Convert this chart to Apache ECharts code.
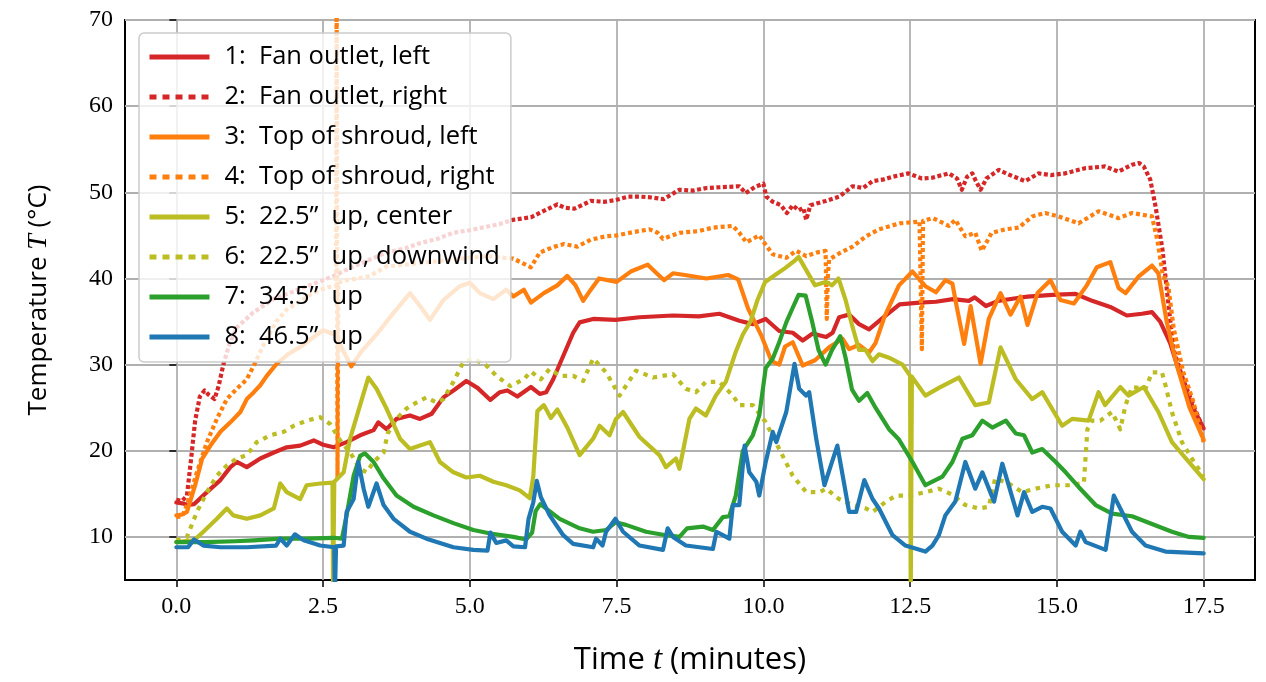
<!DOCTYPE html>
<html>
<head>
<meta charset="utf-8">
<script src="https://cdn.jsdelivr.net/npm/echarts@6/dist/echarts.min.js"></script>
<style>
  html, body { margin: 0; padding: 0; background: #fff; }
  #chart { width: 1266px; height: 682px; }
</style>
</head>
<body>
<div id="chart"></div>
<script>
// tick positions
var xTicks = [0, 2.5, 5, 7.5, 10, 12.5, 15, 17.5];
var yTicks = [10, 20, 30, 40, 50, 60, 70];

var legendNames = [
  '1:  Fan outlet, left',
  '2:  Fan outlet, right',
  '3:  Top of shroud, left',
  '4:  Top of shroud, right',
  '5:  22.5\u201d  up, center',
  '6:  22.5\u201d  up, downwind',
  '7:  34.5\u201d  up',
  '8:  46.5\u201d  up'
];

// [time (min), temperature (C)]
var fanLeft = [[0,14.0],[0.1,13.9],[0.2,13.7],[0.3,13.8],[0.52,15.2],[0.75,16.6],[0.92,18.1],[1.03,18.7],[1.2,18.1],[1.43,19.1],[1.66,19.8],[1.88,20.4],[2.11,20.6],[2.34,21.2],[2.5,20.7],[2.68,20.4],[2.9,21.0],[3.13,21.8],[3.36,22.4],[3.44,23.3],[3.58,22.5],[3.75,23.7],[3.98,24.1],[4.15,23.7],[4.35,24.3],[4.55,26.2],[4.72,27.0],[4.94,28.1],[5.13,27.3],[5.35,25.9],[5.51,26.8],[5.64,27.0],[5.81,26.3],[6.04,27.4],[6.19,26.6],[6.3,26.8],[6.42,28.3],[6.59,31.0],[6.76,33.7],[6.87,34.9],[7.1,35.3],[7.48,35.2],[7.89,35.5],[8.46,35.7],[8.9,35.6],[9.25,35.9],[9.59,35.1],[9.82,34.7],[10.04,35.3],[10.27,33.9],[10.5,33.7],[10.67,32.8],[10.84,33.6],[11.07,33.2],[11.18,33.7],[11.29,35.5],[11.46,35.8],[11.63,34.7],[11.8,34.1],[12.05,35.5],[12.32,37.0],[12.66,37.2],[12.94,37.3],[13.23,37.6],[13.5,37.4],[13.6,37.8],[13.79,36.8],[14.0,37.4],[14.3,37.7],[14.5,37.9],[14.92,38.1],[15.32,38.2],[15.6,37.4],[15.91,36.7],[16.19,35.7],[16.45,35.9],[16.62,36.1],[16.76,35.0],[16.93,32.5],[17.1,28.8],[17.32,25.0],[17.5,22.6]];

var fanRight = [[0,14.3],[0.1,14.2],[0.18,14.8],[0.25,19],[0.32,23.5],[0.4,26.3],[0.48,27],[0.55,26.5],[0.65,26],[0.72,27.5],[0.8,30],[0.9,32.3],[1.03,34.3],[1.3,36],[1.65,37.6],[2.0,38.5],[2.22,39.1],[2.5,39.8],[2.68,40.3],[3.02,41.4],[3.3,42.2],[3.58,43.0],[3.9,43.5],[4.15,44.1],[4.45,44.6],[4.71,45.3],[5.0,45.6],[5.28,46.0],[5.5,46.3],[5.73,46.8],[6.04,47.1],[6.19,47.6],[6.49,48.6],[6.62,48.2],[6.78,48.1],[7.06,49.0],[7.3,48.9],[7.48,49.1],[7.7,49.5],[7.89,49.5],[8.1,49.4],[8.3,49.2],[8.57,50.3],[8.8,50.2],[9.03,50.5],[9.3,50.6],[9.59,50.7],[9.7,49.9],[9.85,50.6],[10.0,51.0],[10.05,49.5],[10.16,48.9],[10.3,48.5],[10.4,47.6],[10.5,48.5],[10.6,47.9],[10.68,48.2],[10.73,46.8],[10.8,48.5],[11.06,49.0],[11.29,49.5],[11.52,50.7],[11.7,50.5],[11.86,51.3],[12.05,51.5],[12.2,51.8],[12.47,52.2],[12.7,51.6],[12.88,51.7],[13.16,52.2],[13.3,51.6],[13.38,50.3],[13.47,51.8],[13.56,52.2],[13.62,51.3],[13.7,50.3],[13.8,51.6],[14.01,52.6],[14.2,52.0],[14.46,51.3],[14.69,52.2],[14.9,52.0],[15.14,52.2],[15.48,52.8],[15.82,53.0],[16.05,52.4],[16.28,53.2],[16.4,53.4],[16.48,53.0],[16.59,51.5],[16.68,48.4],[16.8,43.3],[16.9,37],[16.99,31.7],[17.15,28.3],[17.32,25.4],[17.5,22.4]];

var shroudLeft = [[0,12.5],[0.1,12.6],[0.18,12.9],[0.32,16],[0.44,19.1],[0.58,20.6],[0.75,22.2],[0.92,23.3],[1.09,24.5],[1.2,26.0],[1.32,26.8],[1.43,27.6],[1.54,28.7],[1.71,30.1],[1.9,31.2],[2.1,32.0],[2.3,33.0],[2.5,34.0],[2.7,33.5],[2.85,31.5],[2.98,29.8],[3.15,31.5],[3.41,33.5],[3.7,36.0],[3.98,38.3],[4.15,36.8],[4.32,35.2],[4.55,37.5],[4.83,39.1],[5.0,39.5],[5.17,38.3],[5.4,37.6],[5.62,38.7],[5.74,37.9],[5.92,38.7],[6.04,37.2],[6.26,38.3],[6.49,39.2],[6.66,40.3],[6.8,39.2],[6.93,37.4],[7.06,38.7],[7.2,40.0],[7.5,39.6],[7.74,40.8],[8.03,41.6],[8.2,40.5],[8.31,39.8],[8.46,40.6],[8.66,40.4],[9.03,40.0],[9.4,40.4],[9.57,39.9],[9.74,36.5],[9.97,33.3],[10.14,30.4],[10.27,30.0],[10.37,32.1],[10.5,32.6],[10.67,29.9],[10.88,30.5],[11.12,32.0],[11.35,33.0],[11.46,31.8],[11.63,32.3],[11.8,31.4],[11.91,32.5],[12.06,35.5],[12.31,39.2],[12.54,40.8],[12.76,39.1],[12.94,38.4],[13.1,39.8],[13.22,39.4],[13.3,36.5],[13.42,32.4],[13.53,36.8],[13.7,30.1],[13.84,35.3],[14.04,38.3],[14.21,35.8],[14.38,37.9],[14.5,34.6],[14.67,38.3],[14.89,39.8],[15.06,37.5],[15.29,37.1],[15.51,39.2],[15.68,41.3],[15.91,41.9],[16.05,38.9],[16.17,38.3],[16.39,40.2],[16.62,41.5],[16.73,40.6],[16.87,35.0],[17.04,30.0],[17.26,25.0],[17.5,21.3]];

var shroudRight = [[0,12.3],[0.1,12.4],[0.18,13.7],[0.35,17.5],[0.52,21],[0.69,23.7],[0.86,26.0],[1.03,27.2],[1.2,28.3],[1.32,29.9],[1.5,32.5],[1.7,35],[1.88,36.4],[2.1,37.3],[2.3,38.2],[2.45,38.7],[2.6,39],[2.72,39.1],[2.73,75],[2.745,16.8],[2.76,39.5],[2.9,39.8],[3.1,40.0],[3.3,40.3],[3.58,41.4],[3.9,41.6],[4.15,41.8],[4.45,42.0],[4.71,42.2],[5.0,42.4],[5.28,42.6],[5.57,42.4],[5.74,42.3],[5.95,41.6],[6.04,41.3],[6.19,43.0],[6.4,43.6],[6.6,44.0],[6.83,43.7],[7.06,44.5],[7.32,44.9],[7.5,45],[7.8,45.4],[8.06,45.7],[8.2,45.3],[8.29,44.6],[8.57,45.3],[8.9,45.5],[9.14,45.9],[9.48,46.1],[9.59,45.3],[9.71,44.2],[9.93,45.0],[10.05,43.8],[10.16,42.8],[10.39,42.4],[10.56,43.2],[10.73,42.6],[10.9,43.0],[11.06,43.2],[11.08,35.3],[11.1,40.5],[11.12,42.2],[11.29,42.9],[11.52,43.7],[11.75,44.9],[11.97,45.7],[12.32,46.4],[12.66,46.6],[12.7,31.8],[12.72,46.7],[12.89,47.0],[13.16,46.1],[13.27,46.8],[13.44,44.9],[13.61,45.3],[13.72,43.2],[13.89,45.3],[14.12,45.7],[14.35,45.9],[14.58,47.2],[14.8,47.6],[15.03,47.2],[15.37,46.4],[15.71,47.8],[16.05,47.0],[16.28,47.6],[16.62,47.2],[16.71,44.5],[16.8,40.6],[16.9,39.0],[16.99,34.2],[17.15,29.2],[17.32,25.8],[17.5,21.0]];

var upCenter = [[0,9.4],[0.3,9.6],[0.46,10.6],[0.69,12.1],[0.86,13.3],[0.97,12.5],[1.2,12.1],[1.43,12.5],[1.66,13.3],[1.77,16.2],[1.88,15.2],[2.11,14.4],[2.22,16.0],[2.45,16.2],[2.66,16.3],[2.67,3],[2.69,16.4],[2.85,17.5],[2.96,21.4],[3.13,25.3],[3.27,28.5],[3.41,27.2],[3.58,24.9],[3.81,21.4],[3.98,20.2],[4.15,20.6],[4.32,21.0],[4.49,18.7],[4.72,17.5],[4.94,16.9],[5.17,17.1],[5.4,16.4],[5.62,16.0],[5.85,15.4],[6.02,14.5],[6.08,17],[6.15,24.6],[6.26,25.3],[6.38,23.8],[6.49,24.8],[6.66,22.7],[6.87,19.5],[7.1,21.4],[7.21,22.9],[7.38,21.8],[7.49,23.7],[7.61,24.5],[7.89,21.6],[8.23,19.5],[8.34,18.1],[8.51,19.1],[8.57,17.9],[8.74,23.7],[8.85,24.9],[9.02,24.1],[9.19,26.4],[9.36,28.0],[9.53,31.5],[9.65,33.5],[9.78,35],[9.9,37.5],[10.03,39.6],[10.2,40.4],[10.37,41.2],[10.54,42.1],[10.6,42.5],[10.71,41.2],[10.88,39.2],[11.06,39.6],[11.17,39.2],[11.28,40.0],[11.4,37.5],[11.51,34.6],[11.63,31.7],[11.74,31.7],[11.86,30.4],[11.97,31.2],[12.14,30.8],[12.37,30.0],[12.5,28.7],[12.51,3],[12.53,28.6],[12.76,26.4],[12.99,27.3],[13.33,28.5],[13.61,25.3],[13.84,25.6],[14.04,32.0],[14.3,28.3],[14.58,26.0],[14.75,26.8],[15.09,22.9],[15.26,23.7],[15.54,23.5],[15.71,26.8],[15.82,25.3],[16.08,27.4],[16.22,26.4],[16.48,27.4],[16.73,24.5],[16.96,21.0],[17.2,19.1],[17.5,16.7]];

var upDownwind = [[0,9.6],[0.18,10],[0.35,12.9],[0.52,15.2],[0.69,17.1],[0.86,18.3],[1.03,19.1],[1.2,19.5],[1.37,21.0],[1.6,21.8],[1.83,22.2],[2.0,22.9],[2.22,23.5],[2.45,23.9],[2.62,23.1],[2.79,21.2],[2.96,19.8],[3.13,17.9],[3.24,17.5],[3.36,18.7],[3.53,19.8],[3.6,22.0],[3.75,23.7],[3.92,24.9],[4.09,25.6],[4.26,26.2],[4.43,25.6],[4.55,26],[4.72,28.0],[4.89,30.3],[5.06,30.7],[5.28,29.9],[5.45,28.7],[5.69,27.5],[5.92,28.3],[6.04,29.2],[6.21,28.3],[6.36,29.5],[6.53,28.7],[6.76,28.7],[6.93,28.1],[7.1,30.7],[7.32,29.1],[7.55,26.4],[7.83,29.3],[8.12,28.5],[8.46,28.9],[8.68,27.2],[8.85,26.8],[9.02,28.0],[9.25,28.0],[9.48,26.4],[9.59,25.3],[9.82,25.3],[10.04,23.3],[10.27,20.2],[10.5,17.1],[10.73,15.2],[10.96,15.2],[11.07,15.6],[11.29,14.4],[11.52,13.7],[11.75,13.3],[11.86,12.9],[12.09,14.1],[12.26,14.8],[12.49,14.8],[12.77,15.2],[12.99,15.6],[13.22,14.9],[13.44,13.7],[13.67,13.3],[13.84,13.5],[13.95,16.8],[14.18,16.2],[14.41,15.2],[14.64,15.6],[14.92,16.0],[15.26,16.0],[15.46,16.3],[15.52,22.5],[15.6,23.5],[15.74,23.5],[15.94,24.5],[16.08,22.5],[16.17,25.3],[16.28,27.4],[16.51,27.2],[16.62,29.1],[16.79,29.1],[16.85,27.6],[16.96,24.5],[17.13,21.0],[17.3,19.1],[17.5,17.0]];

var up345 = [[0,9.4],[0.5,9.4],[1.0,9.5],[1.32,9.6],[1.77,9.8],[2.22,9.8],[2.68,9.9],[2.82,9.8],[2.9,12.5],[3.02,17.1],[3.13,19.4],[3.21,19.7],[3.36,18.7],[3.53,16.8],[3.75,14.8],[4.04,13.5],[4.38,12.5],[4.72,11.6],[5.06,10.8],[5.35,10.4],[5.74,10.0],[5.96,9.7],[6.06,10.5],[6.12,13],[6.2,13.8],[6.53,12.1],[6.87,11.0],[7.1,10.6],[7.32,10.8],[7.48,11.7],[7.66,11.4],[8.0,10.6],[8.34,10.2],[8.57,10.0],[8.7,11.0],[8.97,11.2],[9.14,10.8],[9.31,12.3],[9.42,12.4],[9.53,14.8],[9.65,20.0],[9.82,21.8],[9.93,24.1],[10.04,29.6],[10.16,30.7],[10.27,32.6],[10.39,34.9],[10.5,36.6],[10.6,38.1],[10.72,38.0],[10.83,35.0],[10.94,31.7],[11.06,30.0],[11.17,31.7],[11.31,33.3],[11.4,30.8],[11.51,27.1],[11.63,25.8],[11.77,26.7],[11.91,25.0],[12.14,22.5],[12.31,21.3],[12.54,18.7],[12.76,16.0],[13.05,17.0],[13.22,18.7],[13.39,21.4],[13.56,21.8],[13.73,23.5],[13.9,22.7],[14.13,23.5],[14.3,22.0],[14.44,21.8],[14.58,19.8],[14.75,20.2],[14.98,18.7],[15.15,17.5],[15.37,15.8],[15.66,13.7],[15.94,12.7],[16.28,12.4],[16.62,11.5],[16.96,10.6],[17.25,10.0],[17.5,9.9]];

var up465 = [[0,8.8],[0.2,8.8],[0.3,9.7],[0.46,9.0],[0.75,8.8],[1.2,8.8],[1.7,9.0],[1.77,9.8],[1.88,9.0],[2.02,10.3],[2.17,9.6],[2.45,9.0],[2.69,8.8],[2.7,3],[2.72,8.9],[2.85,9.0],[2.9,12.9],[3.02,14.4],[3.1,18.7],[3.19,15.6],[3.27,13.5],[3.41,16.2],[3.53,13.7],[3.7,12.1],[3.98,10.6],[4.26,9.8],[4.72,8.8],[5.06,8.5],[5.3,8.4],[5.35,10.5],[5.45,9.3],[5.62,9.6],[5.74,8.9],[5.94,8.8],[6.0,12.1],[6.08,14],[6.14,16.5],[6.21,14.6],[6.36,12.5],[6.59,10.2],[6.76,9.2],[7.1,8.8],[7.15,9.8],[7.26,9.0],[7.32,10.6],[7.48,12.1],[7.61,10.6],[7.89,9.0],[8.29,8.5],[8.37,11.0],[8.46,10.0],[8.68,9.0],[9.14,8.6],[9.2,10.6],[9.31,10.2],[9.42,9.8],[9.48,13.7],[9.59,13.7],[9.68,20.6],[9.76,17.5],[9.88,16.4],[9.93,14.8],[10.04,18.7],[10.16,22.2],[10.22,21.0],[10.39,24.5],[10.53,30.1],[10.61,27.2],[10.73,26.4],[10.78,26.8],[10.9,21.4],[11.04,16.0],[11.15,18.3],[11.26,20.6],[11.38,16.0],[11.46,12.9],[11.58,12.9],[11.72,16.6],[11.86,14.4],[11.97,13.3],[12.2,10.2],[12.42,9.0],[12.76,8.3],[12.88,9.0],[12.99,10.2],[13.1,12.5],[13.27,14.1],[13.44,18.7],[13.61,15.6],[13.73,17.5],[13.93,14.1],[14.07,18.5],[14.33,12.5],[14.44,15.2],[14.58,12.9],[14.75,13.5],[14.89,13.3],[15.09,10.6],[15.32,9.0],[15.4,10.6],[15.49,9.4],[15.83,8.5],[15.97,14.8],[16.11,12.9],[16.28,10.6],[16.51,9.0],[16.85,8.3],[17.5,8.1]];

var allData = [fanLeft, fanRight, shroudLeft, shroudRight, upCenter, upDownwind, up345, up465];
var colors = ['#d62728', '#d62728', '#ff7f0e', '#ff7f0e', '#bcbd22', '#bcbd22', '#2ca02c', '#1f77b4'];
// dash pattern per series (null = solid); the noisy traces make the dots crowd together
var dashes = [null, [4, 2.5], null, [4, 3], null, [4.5, 5.5], null, null];

var chart = echarts.init(document.getElementById('chart'), null, { renderer: 'canvas' });

var series = allData.map(function (d, i) {
  return {
    name: legendNames[i],
    type: 'line',
    data: d,
    symbol: 'none',
    showSymbol: false,
    animation: false,
    clip: true,
    itemStyle: { color: colors[i] },
    lineStyle: {
      color: colors[i],
      width: 4.2,
      type: dashes[i] || 'solid',
      cap: dashes[i] ? 'butt' : 'round',
      join: 'round'
    },
    emphasis: { disabled: true }
  };
});

var legendData = legendNames.map(function (n, i) {
  return {
    name: n,
    lineStyle: {
      color: colors[i],
      width: 5,
      type: dashes[i] ? [7, 6] : 'solid',
      cap: 'butt'
    }
  };
});

var fontSans = 'Open Sans';

var option = {
  backgroundColor: '#ffffff',
  animation: false,
  grid: {
    left: 125, right: 11, top: 20, bottom: 101,
    show: true, borderColor: '#000', borderWidth: 2, backgroundColor: 'transparent'
  },
  legend: {
    orient: 'vertical',
    left: 139, top: 33,
    padding: [11, 11, 12, 8],
    itemWidth: 60,
    itemHeight: 14,
    itemGap: 14,
    backgroundColor: 'rgba(255,255,255,0.8)',
    borderColor: '#cccccc',
    borderWidth: 1.5,
    borderRadius: 5,
    itemStyle: { opacity: 0 },
    textStyle: {
      fontFamily: fontSans,
      fontSize: 25.5,
      lineHeight: 26,
      color: '#000',
      padding: [0, 0, 0, 10]
    },
    data: legendData
  },
  xAxis: {
    type: 'value',
    min: -0.875,
    max: 18.375,
    name: '{n|Time }{i|t}{n| (minutes)}',
    nameLocation: 'middle',
    nameGap: 64,
    nameTextStyle: {
      rich: {
        n: { fontFamily: fontSans, fontSize: 31, color: '#000' },
        i: { fontFamily: 'Liberation Serif', fontStyle: 'italic', fontSize: 33, color: '#000' }
      }
    },
    axisLine: { show: false },
    axisTick: { show: true, inside: false, length: 7, customValues: xTicks, lineStyle: { color: '#000', width: 1.5 } },
    axisLabel: {
      customValues: xTicks,
      margin: 15,
      fontFamily: 'Liberation Serif',
      fontSize: 24,
      color: '#000',
      formatter: function (v) { return v.toFixed(1); }
    },
    splitLine: { show: true, lineStyle: { color: '#b0b0b0', width: 1.8 } }
  },
  yAxis: {
    type: 'value',
    min: 5,
    max: 70,
    name: '{n|Temperature }{i|T}{n| (\u00b0C)}',
    nameLocation: 'middle',
    nameRotate: 90,
    nameGap: 72,
    nameTextStyle: {
      rich: {
        n: { fontFamily: fontSans, fontSize: 26, color: '#000' },
        i: { fontFamily: 'Liberation Serif', fontStyle: 'italic', fontSize: 28, color: '#000' }
      }
    },
    axisLine: { show: false },
    axisTick: { show: true, inside: false, length: 7, customValues: yTicks, lineStyle: { color: '#000', width: 1.5 } },
    axisLabel: {
      customValues: yTicks,
      margin: 12,
      fontFamily: 'Liberation Serif',
      fontSize: 24,
      color: '#000'
    },
    splitLine: { show: true, lineStyle: { color: '#b0b0b0', width: 1.8 } }
  },
  series: series
};

chart.setOption(option);
</script>
</body>
</html>
